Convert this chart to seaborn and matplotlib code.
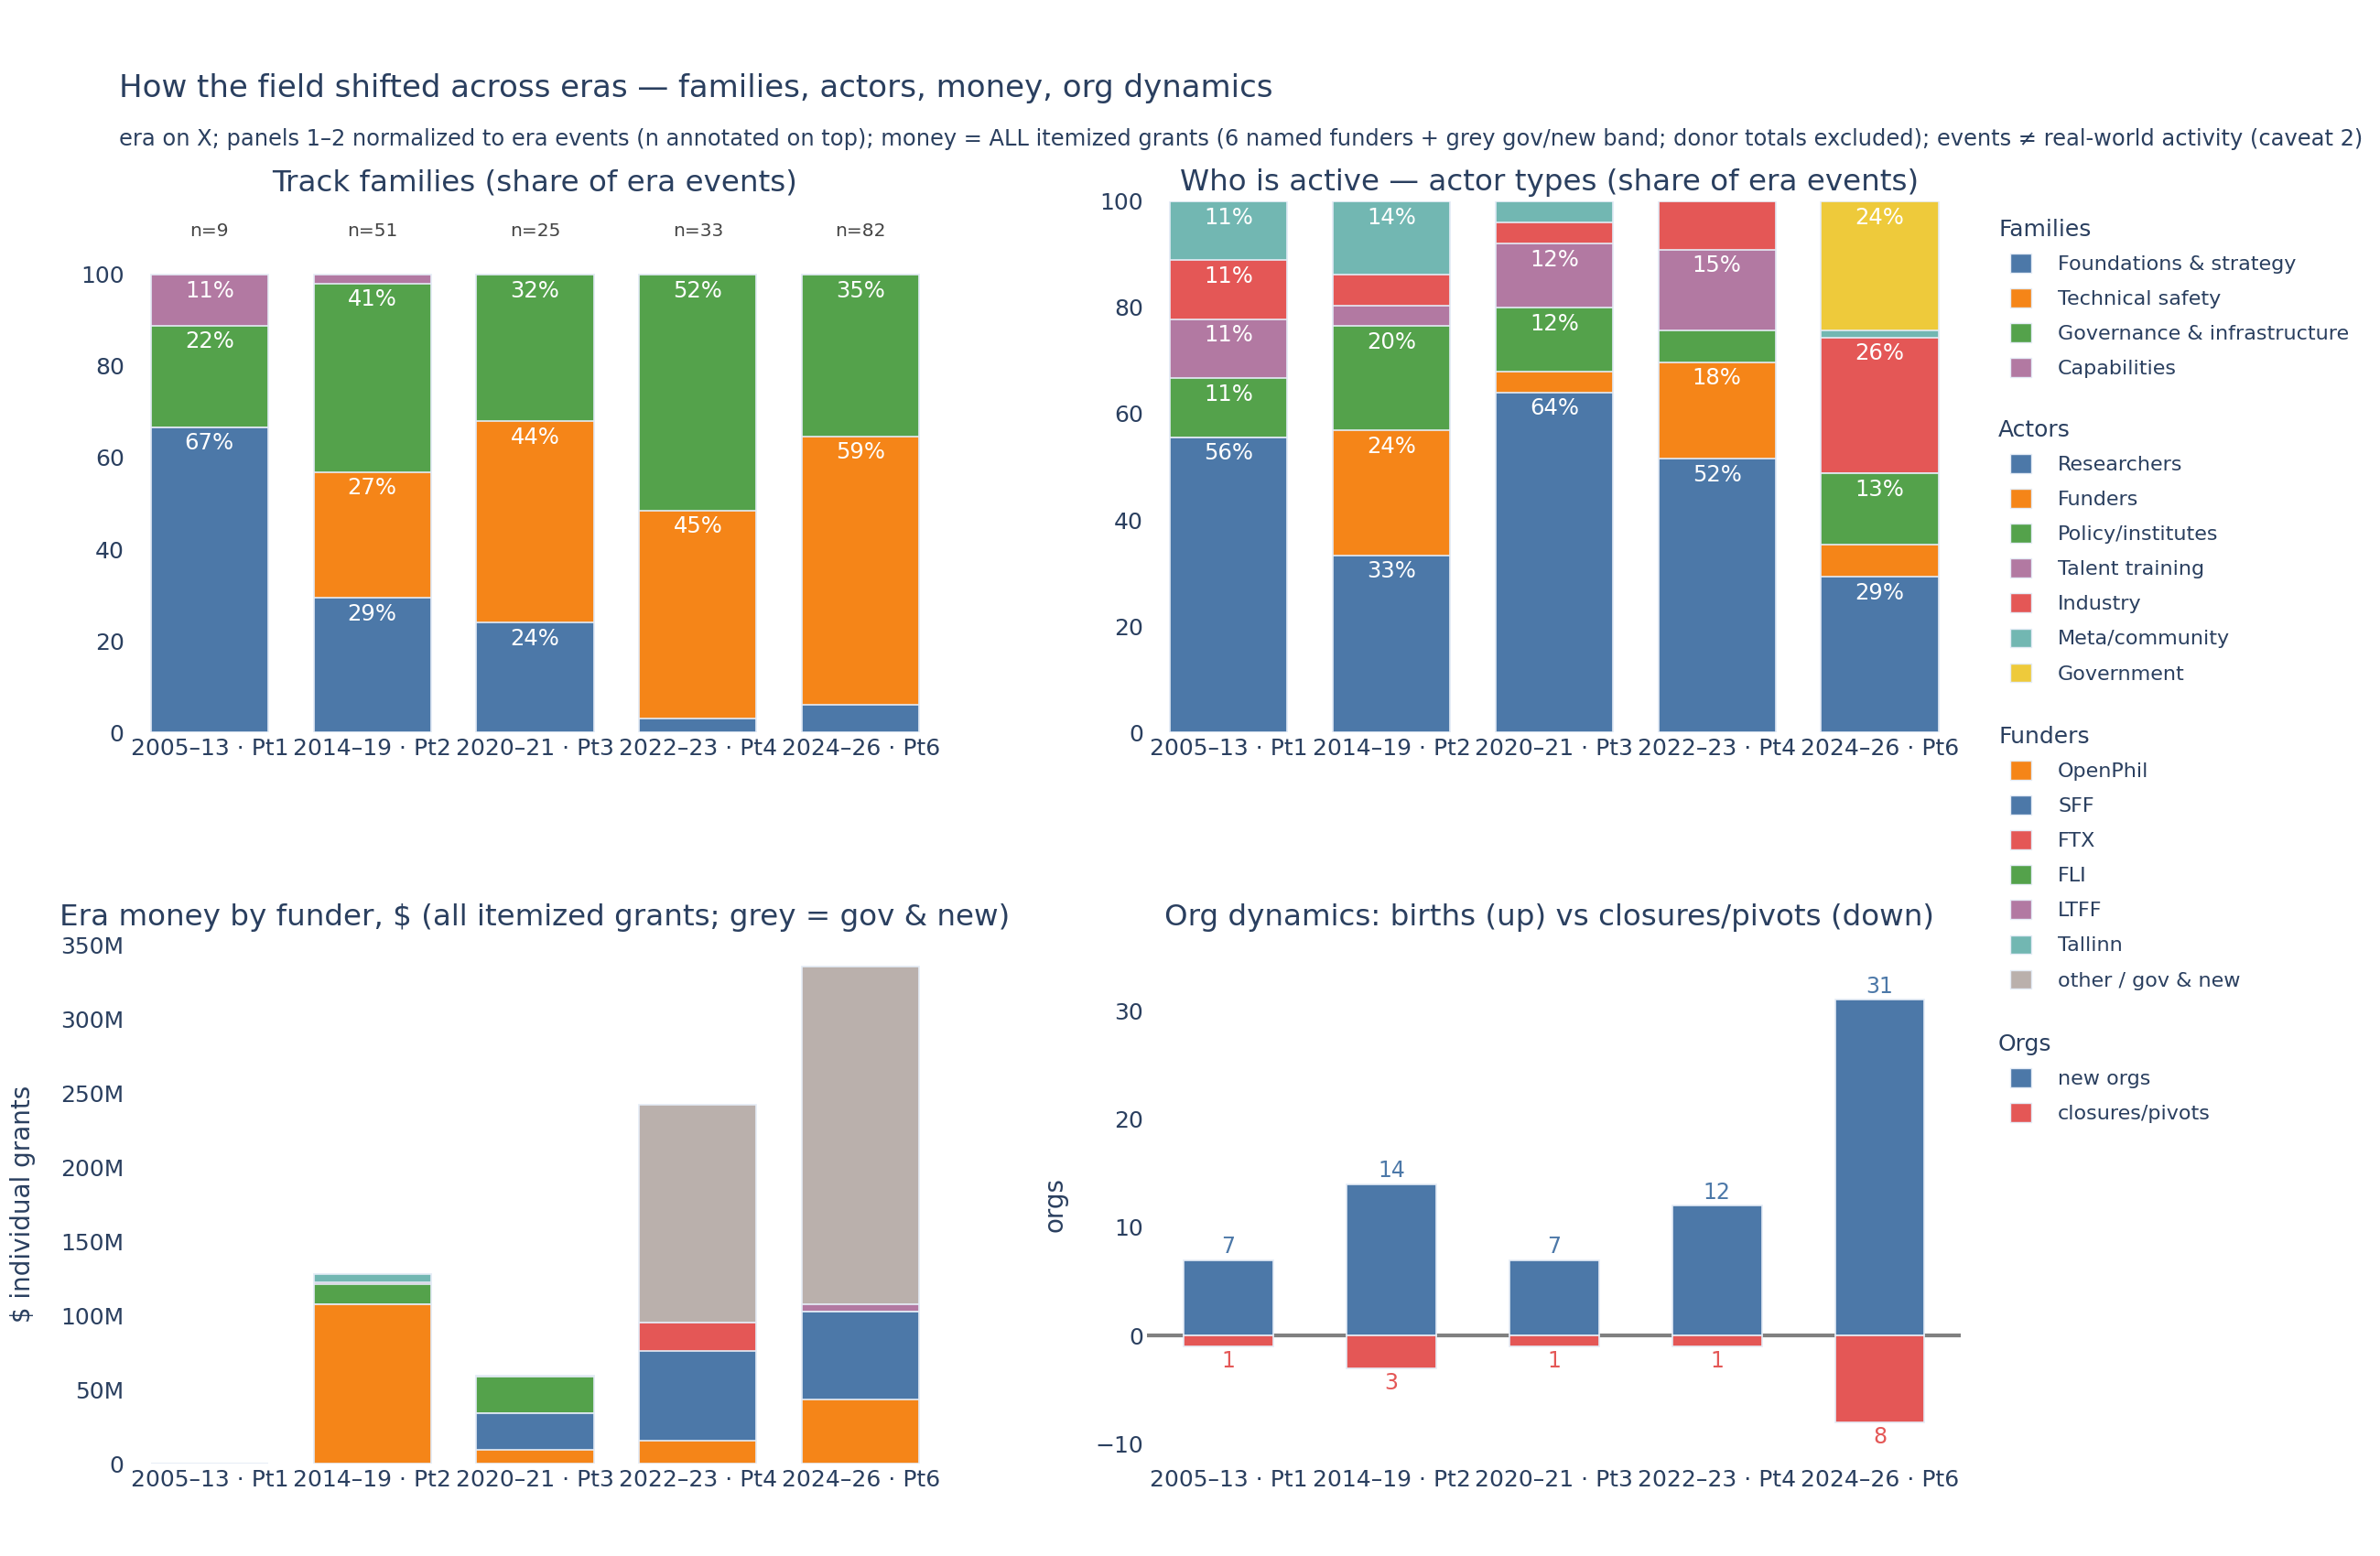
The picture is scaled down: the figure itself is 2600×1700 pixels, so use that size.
import numpy as np
import matplotlib
matplotlib.use("Agg")
import matplotlib.pyplot as plt
import seaborn as sns
from matplotlib.patches import Patch
from matplotlib.ticker import FuncFormatter

# ---- data ----
eras = ["2005–13 · Pt1", "2014–19 · Pt2", "2020–21 · Pt3", "2022–23 · Pt4", "2024–26 · Pt6"]
era_n = [9, 51, 25, 33, 82]

# track families (event counts per era)
fam_names = ["Foundations & strategy", "Technical safety", "Governance & infrastructure", "Capabilities"]
fam_foundations = [6, 15, 6, 1, 5]
fam_technical = [0, 14, 11, 15, 48]
fam_governance = [2, 21, 8, 17, 29]
fam_capabilities = [1, 1, 0, 0, 0]

# actor types (event counts per era)
actor_names = ["Researchers", "Funders", "Policy/institutes", "Talent training",
               "Industry", "Meta/community", "Government"]
act_researchers = [5, 17, 16, 17, 24]
act_funders = [0, 12, 1, 6, 5]
act_policy = [1, 10, 3, 2, 11]
act_talent = [1, 2, 3, 5, 0]
act_industry = [1, 3, 1, 3, 21]
act_meta = [1, 7, 1, 0, 1]
act_government = [0, 0, 0, 0, 20]

# money by funder, $M
funder_names = ["OpenPhil", "SFF", "FTX", "FLI", "LTFF", "Tallinn", "other / gov & new"]
m_openphil = [0, 107.2, 9.2, 15.5, 43.5]
m_sff = [0, 0, 24.8, 60.6, 59.0]
m_ftx = [0, 0, 0, 18.8, 0]
m_fli = [0, 13.8, 24.7, 0, 0]
m_ltff = [0, 1.5, 0, 0, 4.9]
m_tallinn = [0, 5.5, 0.3, 0, 0]
m_other = [0, 0, 0, 146.9, 227.7]

# org dynamics
org_births = [7, 14, 7, 12, 31]
org_closures = [1, 3, 1, 1, 8]

# ---- style ----
BLUE, ORANGE, GREEN, PURPLE = "#4C78A8", "#F58518", "#54A24B", "#B279A2"
RED, TEAL, YELLOW, GREY = "#E45756", "#72B7B2", "#EECA3B", "#BAB0AC"
INK = "#2a3f5f"
EDGE = "#E5ECF6"

sns.set_theme(style="white")
plt.rcParams["font.family"] = ["DejaVu Sans"]
plt.rcParams["text.color"] = INK
plt.rcParams["axes.labelcolor"] = INK
plt.rcParams["xtick.color"] = INK
plt.rcParams["ytick.color"] = INK

fig = plt.figure(figsize=(26, 17), dpi=100)
ax1 = fig.add_axes([0.0538, 0.5294, 0.342, 0.3412])
ax2 = fig.add_axes([0.4820, 0.5294, 0.342, 0.3412])
ax3 = fig.add_axes([0.0538, 0.0594, 0.342, 0.3335])
ax4 = fig.add_axes([0.4820, 0.0594, 0.342, 0.3335])


def stacked(ax, layers, colors, width=0.72):
    """overlay cumulative bars (tallest first) so they read as a stack"""
    tops = np.cumsum(np.array(layers, dtype=float), axis=0)
    for i in range(len(layers) - 1, -1, -1):
        sns.barplot(x=eras, y=tops[i], color=colors[i], order=eras, width=width,
                    saturation=1, errorbar=None, edgecolor=EDGE, linewidth=1.2, ax=ax)
    return tops


def pct_labels(ax, layers, tops):
    for i, layer in enumerate(layers):
        for j, v in enumerate(layer):
            share = v / era_n[j] * 100
            if share >= 10:
                top = tops[i][j] / era_n[j] * 100
                ax.annotate(f"{round(share)}%", (j, top), xytext=(0, -4),
                            textcoords="offset points", ha="center", va="top",
                            color="white", fontsize=17.5)


def clean(ax):
    sns.despine(ax=ax, left=True, bottom=True)
    ax.tick_params(axis="both", length=0, labelsize=18)
    ax.tick_params(axis="x", pad=4)
    ax.tick_params(axis="y", pad=3)
    ax.set_xlabel("")
    ax.set_ylabel("")
    ax.set_xlim(-0.5, 4.5)


# panel 1: families share
fam_layers = [fam_foundations, fam_technical, fam_governance, fam_capabilities]
fam_share = [np.array(l) / np.array(era_n) * 100 for l in fam_layers]
stacked(ax1, fam_share, [BLUE, ORANGE, GREEN, PURPLE])
pct_labels(ax1, fam_layers, np.cumsum(fam_layers, axis=0))
for j, n in enumerate(era_n):
    ax1.text(j, 109.5, f"n={n}", ha="center", va="center", fontsize=14.5, color="#444444")
ax1.set_ylim(0, 116)
ax1.set_yticks([0, 20, 40, 60, 80, 100])
clean(ax1)

# panel 2: actors share
act_layers = [act_researchers, act_funders, act_policy, act_talent,
              act_industry, act_meta, act_government]
act_share = [np.array(l) / np.array(era_n) * 100 for l in act_layers]
stacked(ax2, act_share, [BLUE, ORANGE, GREEN, PURPLE, RED, TEAL, YELLOW])
pct_labels(ax2, act_layers, np.cumsum(act_layers, axis=0))
ax2.set_ylim(0, 100)
ax2.set_yticks([0, 20, 40, 60, 80, 100])
clean(ax2)

# panel 3: money
money_layers = [m_openphil, m_sff, m_ftx, m_fli, m_ltff, m_tallinn, m_other]
stacked(ax3, money_layers, [ORANGE, BLUE, RED, GREEN, PURPLE, TEAL, GREY])
ax3.set_ylim(0, 350)
ax3.set_yticks(range(0, 351, 50))
ax3.yaxis.set_major_formatter(FuncFormatter(lambda v, p: "0" if v == 0 else f"{int(v)}M"))
clean(ax3)
ax3.set_ylabel("$ individual grants", fontsize=20)
ax3.yaxis.set_label_coords(-0.113, 0.5)

# panel 4: org dynamics
ax4.axhline(0, color="#808080", lw=3, zorder=0)
sns.barplot(x=eras, y=org_births, color=BLUE, order=eras, width=0.55, saturation=1,
            errorbar=None, edgecolor=EDGE, linewidth=1.2, ax=ax4)
sns.barplot(x=eras, y=[-c for c in org_closures], color=RED, order=eras, width=0.55,
            saturation=1, errorbar=None, edgecolor=EDGE, linewidth=1.2, ax=ax4)
for j, (b, c) in enumerate(zip(org_births, org_closures)):
    ax4.annotate(str(b), (j, b), xytext=(0, 2), textcoords="offset points",
                 ha="center", va="bottom", color=BLUE, fontsize=17)
    ax4.annotate(str(c), (j, -c), xytext=(0, -3), textcoords="offset points",
                 ha="center", va="top", color=RED, fontsize=17)
ax4.set_ylim(-11.8, 36.1)
ax4.set_yticks([-10, 0, 10, 20, 30])
ax4.yaxis.set_major_formatter(FuncFormatter(lambda v, p: f"{int(v)}".replace("-", "−")))
clean(ax4)
ax4.set_ylabel("orgs", fontsize=20)
ax4.yaxis.set_label_coords(-0.097, 0.5)

# titles
fig.text(0.05, 0.943, "How the field shifted across eras — families, actors, money, org dynamics",
         fontsize=24.5, va="center", ha="left")
fig.text(0.05, 0.9105,
         "era on X; panels 1–2 normalized to era events (n annotated on top); money = ALL itemized grants "
         "(6 named funders + grey gov/new band; donor totals excluded); events ≠ real-world activity (caveat 2)",
         fontsize=17.4, va="center", ha="left")
fig.text(0.2248, 0.8824, "Track families (share of era events)", fontsize=23.4, ha="center", va="center")
fig.text(0.6508, 0.8824, "Who is active — actor types (share of era events)", fontsize=23.4,
         ha="center", va="center")
fig.text(0.2248, 0.410, "Era money by funder, $ (all itemized grants; grey = gov & new)", fontsize=23.4,
         ha="center", va="center")
fig.text(0.6508, 0.410, "Org dynamics: births (up) vs closures/pivots (down)", fontsize=23.4,
         ha="center", va="center")

# legend groups
groups = [
    ("Families", fam_names, [BLUE, ORANGE, GREEN, PURPLE], 251),
    ("Actors", actor_names, [BLUE, ORANGE, GREEN, PURPLE, RED, TEAL, YELLOW], 470),
    ("Funders", funder_names, [ORANGE, BLUE, RED, GREEN, PURPLE, TEAL, GREY], 805),
    ("Orgs", ["new orgs", "closures/pivots"], [BLUE, RED], 1141),
]
for title, names, cols, ypx in groups:
    fig.text(2183 / 2600, 1 - ypx / 1700, title, fontsize=18, ha="left", va="center")
    handles = [Patch(facecolor=c, edgecolor=EDGE, linewidth=1) for c in cols]
    fig.legend(handles, names, loc="upper left",
               bbox_to_anchor=(2196 / 2600, 1 - (ypx + 26) / 1700),
               frameon=False, fontsize=16, handlelength=1.05, handleheight=1.05,
               handletextpad=1.3, labelspacing=0.73, borderpad=0, borderaxespad=0)

fig.savefig("out.png", dpi=100, facecolor="white")
